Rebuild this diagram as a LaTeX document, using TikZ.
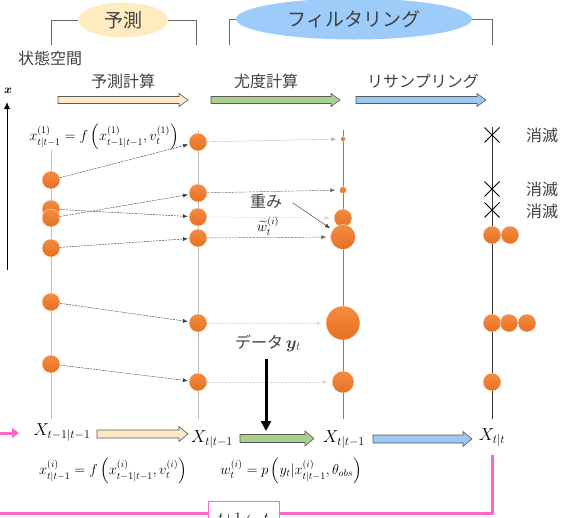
\documentclass[tikz,border=0pt]{standalone}
\usepackage{fontspec}
\usepackage{amsmath}
\usepackage{bm}
\newfontfamily\jp{Noto Sans CJK JP}
\usetikzlibrary{shapes.geometric,shapes.misc,arrows.meta}
\definecolor{creamC}{RGB}{253,234,196}
\definecolor{ellCream}{RGB}{255,236,192}
\definecolor{ellBlue}{RGB}{157,203,250}
\definecolor{greenC}{RGB}{169,208,142}
\definecolor{blueC}{RGB}{157,200,245}
\definecolor{orangeA}{RGB}{243,140,66}
\definecolor{orangeB}{RGB}{232,112,32}
\definecolor{pinkC}{RGB}{255,102,204}
\definecolor{txt}{RGB}{64,64,64}
\newcommand\blkarr[6]{% x1, x2, y, fill, shaft half, head half
  \draw[line width=0.6pt, draw=black!65, fill=#4]
    (#1,#3-#5) -- (#2-9,#3-#5) -- (#2-9,#3-#6) -- (#2,#3) -- (#2-9,#3+#6)
    -- (#2-9,#3+#5) -- (#1,#3+#5) -- cycle;}
\begin{document}
\begin{tikzpicture}[x=1pt,y=-1pt,
  jtext/.style={font=\jp\fontsize{16}{18}\selectfont, text=txt, inner sep=0},
  jbig/.style={font=\jp\fontsize{19}{21}\selectfont, text=txt, inner sep=0},
  dot/.style={circle, top color=orangeA, bottom color=orangeB, draw=white, line width=0.3pt, inner sep=0, minimum size=#1},
  dot/.default=18pt,
  col/.style={line width=0.8pt},
  darr/.style={black!75, line width=0.45pt, dash pattern=on 2pt off 1pt, -{Latex[length=5pt,width=4pt]}, shorten >=1pt},
  garr/.style={black!45, line width=0.45pt, dash pattern=on 2.5pt off 1pt, -{Latex[length=5pt,width=4pt]}, shorten >=4pt},
  bracket/.style={black!60, line width=0.7pt},
  xout/.style={cross out, draw=black, line width=1pt, minimum size=14pt, inner sep=0},
  mlab/.style={inner sep=0, font=\fontsize{17}{19}\selectfont},
  flab/.style={inner sep=0, font=\fontsize{14}{16}\selectfont},
  pinkline/.style={pinkC, line width=3pt}
]
\useasboundingbox (0,0) rectangle (570,517);

% ---- top brackets and ellipses
\node[ellipse, fill=ellCream, minimum width=90pt, minimum height=35pt, jbig] (ell1) at (123,20) {予測};
\draw[bracket] (51,45) |- (ell1.west);
\draw[bracket] (ell1.east) -| (196,45);
\node[ellipse, fill=ellBlue, minimum width=236pt, minimum height=41pt, jbig] (ell2) at (354,19) {フィルタリング};
\draw[bracket] (229,45) |- (ell2.west);
\draw[bracket] (ell2.east) -| (492,45);

\node[jtext] (ss) at (50,58) {状態空間};
\node[jtext] (lab1) at (123,81) {予測計算};
\node[jtext] (lab2) at (266,81) {尤度計算};
\node[jtext] (lab3) at (423,81) {リサンプリング};

\blkarr{58}{188}{100}{creamC}{3.5}{6.5}
\blkarr{211}{340}{100}{greenC}{3.5}{6.5}
\blkarr{356}{486}{100}{blueC}{3.5}{6.5}

% ---- left axis
\node[inner sep=0, font=\fontsize{13}{15}\selectfont] (xax) at (8,91) {$\bm{x}$};
\coordinate (ax0) at (7,270);
\coordinate (ax1) at (7,102);
\draw[line width=0.8pt, -{Latex[length=7pt,width=6pt]}] (ax0) -- (ax1);

% ---- column lines
\coordinate (l1t) at (51,130); \coordinate (l1b) at (51,419);
\coordinate (l2t) at (198,130); \coordinate (l2b) at (198,419);
\coordinate (l3t) at (343,130); \coordinate (l3b) at (343,419);
\coordinate (l4t) at (492,127); \coordinate (l4b) at (492,419);
\draw[col, black!25] (l1t) -- (l1b);
\draw[col, black!25] (l2t) -- (l2b);
\draw[col, black!50] (l3t) -- (l3b);
\draw[col, black!80] (l4t) -- (l4b);

% ---- top formula
\node[flab, fill=white, inner xsep=1pt, inner ysep=0pt] (topf) at (104,137) {$x^{(1)}_{t|t-1} = f\left(x^{(1)}_{t-1|t-1}, v^{(1)}_t\right)$};

% ---- column 1 particles
\node[dot] (a1) at (51,180) {};
\node[dot] (a2) at (51,209) {};
\node[dot] (a3) at (51,218) {};
\node[dot] (a4) at (51,248) {};
\node[dot] (a5) at (51,302) {};
\node[dot] (a6) at (51,364) {};

% ---- column 2 particles
\node[dot] (b1) at (198,142) {};
\node[dot] (b2) at (198,193) {};
\node[dot] (b3) at (198,217) {};
\node[dot] (b4) at (198,238) {};
\node[dot] (b5) at (198,323) {};
\node[dot] (b6) at (198,382) {};

% ---- column 3 weighted particles
\node[dot=5pt] (c1) at (343,139) {};
\node[dot=7pt] (c2) at (343,190) {};
\node[dot=18pt] (c3) at (343,218) {};
\node[dot=25pt] (c4) at (343,237) {};
\node[dot=34pt] (c5) at (343,323) {};
\node[dot=22pt] (c6) at (343,382) {};

% ---- column 4 resampled
\node[xout] (k1) at (492,135) {};
\node[xout] (k2) at (492,189) {};
\node[xout] (k3) at (492,210) {};
\node[jtext] (m1) at (542,135) {消滅};
\node[jtext] (m2) at (542,189) {消滅};
\node[jtext] (m3) at (542,211) {消滅};
\node[dot] (d1) at (492,235) {};
\node[dot] (d2) at (510,235) {};
\node[dot] (d3) at (492,323) {};
\node[dot] (d4) at (509,323) {};
\node[dot] (d5) at (527,323) {};
\node[dot] (d6) at (492,382) {};

% ---- prediction arrows
\draw[darr] (a1) -- (b1);
\draw[darr] (a2) -- (b3);
\draw[darr] (a3) -- (b2);
\draw[darr] (a4) -- (b4);
\draw[darr] (a5) -- (b5);
\draw[darr] (a6) -- (b6);

% ---- likelihood arrows
\draw[garr, black!30] (b1) -- (c1);
\draw[garr, black!60] (b2) -- (c2);
\draw[garr, black!15] (b3) -- (c3);
\draw[garr, black!60] (b4) -- (c4);
\draw[garr, black!12] (b5) -- (c5);
\draw[garr, black!15] (b6) -- (c6);

% ---- weight label
\node[jtext, fill=white, inner sep=1pt] (w1) at (266,201) {重み};
\node[flab, inner sep=1pt] (w2) at (268,226) {$\widetilde{w}^{(i)}_t$};
\coordinate (wa) at (293,203);
\draw[black!75, line width=0.45pt, -{Latex[length=5pt,width=4pt]}, shorten >=3pt] (wa) -- (c4);

% ---- data arrow
\node[jtext] (data) at (268,343) {データ\,{\fontsize{17}{19}\selectfont$\bm{y}_t$}};
\coordinate (ds) at (266,359);
\coordinate (de) at (266,431);
\draw[line width=3pt, -{Triangle[length=10pt,width=10pt]}] (ds) -- (de);

% ---- bottom row
\node[mlab] (X1) at (62,433) {$X_{t-1|t-1}$};
\node[mlab] (X2) at (212,440) {$X_{t|t-1}$};
\node[mlab] (X3) at (344,440) {$X_{t|t-1}$};
\node[mlab] (X4) at (492,438) {$X_{t|t}$};
\blkarr{97}{188}{434}{creamC}{4}{7.5}
\blkarr{240}{314}{438.5}{greenC}{4}{7.5}
\blkarr{373}{472}{439}{blueC}{4}{7.5}

\node[flab] (f1) at (113,471) {$x^{(i)}_{t|t-1} = f\left(x^{(i)}_{t-1|t-1}, v^{(i)}_t\right)$};
\node[flab] (f2) at (291,471) {$w^{(i)}_t = p\left(y_t | x^{(i)}_{t|t-1}, \theta_{obs}\right)$};

% ---- pink loop
\coordinate (p0) at (492,455);
\coordinate (p1) at (492,513);
\coordinate (p2) at (0,513);
\draw[pinkline] (p0) -- (p1) -- (p2);
\node[draw=pinkC, line width=0.8pt, fill=white, minimum width=71pt, minimum height=34pt, anchor=north, inner sep=0, font=\fontsize{14}{16}\selectfont] (tb) at (243.5,501) {$t{+}1 \leftarrow t$};
\coordinate (pa0) at (0,433);
\coordinate (pa1) at (19,433);
\draw[pinkC, line width=3pt, -{Triangle[length=7pt,width=10pt]}] (pa0) -- (pa1);
\end{tikzpicture}
\end{document}
